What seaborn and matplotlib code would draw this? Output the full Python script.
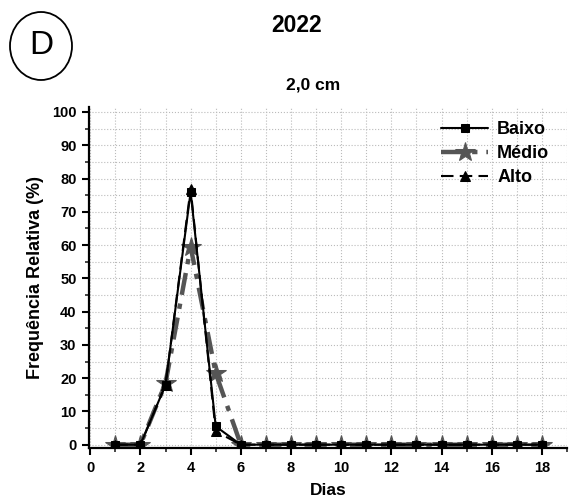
import matplotlib
matplotlib.use("Agg")
import matplotlib.pyplot as plt
from matplotlib.patches import Ellipse
from matplotlib.ticker import MultipleLocator
import seaborn as sns
import pandas as pd

dias = list(range(1, 19))
baixo = [0, 0, 18, 76, 5.5, 0, 0, 0, 0, 0, 0, 0, 0, 0, 0, 0, 0, 0]
medio = [0, 0, 18.5, 59.5, 21.5, 0, 0, 0, 0, 0, 0, 0, 0, 0, 0, 0, 0, 0]
alto = [0, 0, 18, 77, 4, 0, 0, 0, 0, 0, 0, 0, 0, 0, 0, 0, 0, 0]

sns.set_style("white")
plt.rcParams['font.family'] = ['Liberation Sans', 'DejaVu Sans']
plt.rcParams['text.color'] = 'black'
plt.rcParams['axes.labelcolor'] = 'black'

fig = plt.figure(figsize=(5.74, 5.01), dpi=100)
ax = fig.add_axes([89/574, 1-448/501, (567-89)/574, (448-107)/501])

df_b = pd.DataFrame({"Dias": dias, "v": baixo})
df_m = pd.DataFrame({"Dias": dias, "v": medio})
df_a = pd.DataFrame({"Dias": dias, "v": alto})

sns.lineplot(data=df_b, x="Dias", y="v", ax=ax, color="black", linewidth=1.5,
             marker="s", markersize=6, markeredgecolor="black", label="Baixo", zorder=3)
sns.lineplot(data=df_m, x="Dias", y="v", ax=ax, color="#555555", linewidth=3.2,
             marker="*", markersize=15, markeredgecolor="#555555", label="Médio", zorder=2)
sns.lineplot(data=df_a, x="Dias", y="v", ax=ax, color="black", linewidth=1.5,
             marker="^", markersize=7, markeredgecolor="black", label="Alto", zorder=4)
ax.lines[1].set_dashes([5, 2, 1.2, 2])
ax.lines[2].set_dashes([6, 3])

ax.set_xlim(-0.05, 19.0)
ax.set_ylim(-1.0, 101.5)
ax.xaxis.set_major_locator(MultipleLocator(2))
ax.xaxis.set_minor_locator(MultipleLocator(1))
ax.yaxis.set_major_locator(MultipleLocator(10))
ax.yaxis.set_minor_locator(MultipleLocator(5))
ax.set_yticks(range(0, 101, 10))
ax.grid(True, which="both", color="#bbbbbb", linestyle=":", linewidth=0.8)
ax.set_axisbelow(True)

for s in ["top", "right"]:
    ax.spines[s].set_visible(False)
for s in ["left", "bottom"]:
    ax.spines[s].set_color("black")
    ax.spines[s].set_linewidth(1.6)

ax.tick_params(axis="both", which="major", direction="out", length=5, width=1.5,
               labelsize=10.5, colors="black", pad=4, left=True, bottom=True)
ax.tick_params(axis="both", which="minor", direction="out", length=3, width=1.2,
               left=True, bottom=True)
for lab in ax.get_xticklabels() + ax.get_yticklabels():
    lab.set_fontweight("bold")

ax.set_xlabel("Dias", fontsize=12.5, fontweight="bold", labelpad=6)
ax.set_ylabel("Frequência Relativa (%)", fontsize=13, fontweight="bold", labelpad=6)

leg = ax.legend(loc="upper left", bbox_to_anchor=(434/574, 1-114/501),
                bbox_transform=fig.transFigure, frameon=False,
                prop={"weight": "bold", "size": 13}, handlelength=2.6,
                handletextpad=0.5, labelspacing=0.38, borderaxespad=0)
for t in leg.get_texts():
    t.set_color("black")

fig.text(297/574, 1-25/501, "2022", ha="center", va="center", fontsize=16.5, fontweight="bold")
fig.text(313/574, 1-85/501, "2,0 cm", ha="center", va="center", fontsize=12.5, fontweight="bold")
fig.add_artist(Ellipse((41/574, 1-46/501), width=62/574, height=68/501,
                       transform=fig.transFigure, fill=False, edgecolor="black", linewidth=1.3))
fig.text(41/574, 1-46/501, "D", ha="center", va="center", fontsize=24)

fig.savefig("out.png", dpi=100)
